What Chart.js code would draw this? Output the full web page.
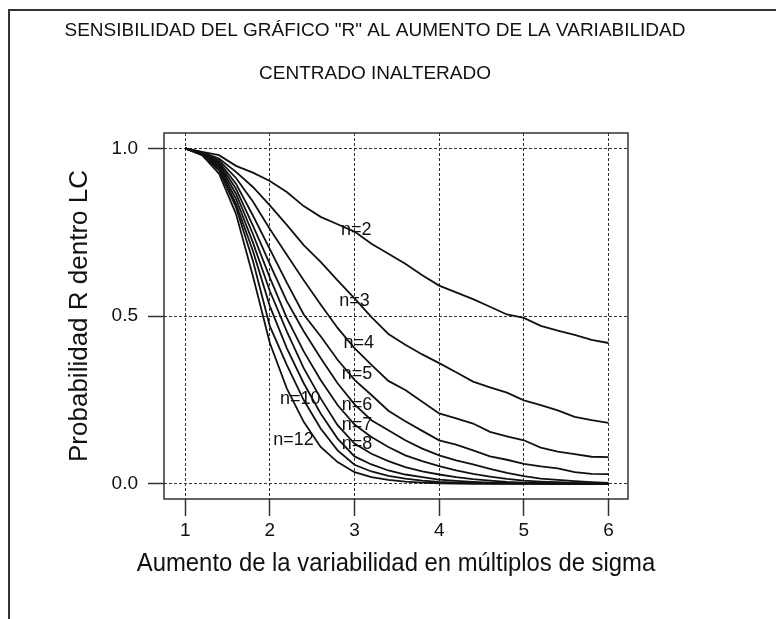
<!DOCTYPE html>
<html><head><meta charset="utf-8">
<script src="https://cdn.jsdelivr.net/npm/chart.js@4.4.0/dist/chart.umd.min.js"></script>
<style>
html,body{margin:0;padding:0;background:#fff;overflow:hidden;width:776px;height:619px;}
#frame{position:absolute;left:8px;top:9px;width:800px;height:700px;border-top:2px solid #333;border-left:2px solid #333;}
#c{position:absolute;left:0;top:0;}
</style></head><body>
<div id="frame"></div>
<canvas id="c" width="776" height="619"></canvas>
<script>
// ---- data ----
const titleLines = ['SENSIBILIDAD DEL GRÁFICO "R" AL AUMENTO DE LA VARIABILIDAD', 'CENTRADO INALTERADO'];
const xTitle = 'Aumento de la variabilidad en múltiplos de sigma';
const yTitle = 'Probabilidad R dentro LC';
const xTicks = [1, 2, 3, 4, 5, 6];
const yTicks = [0, 0.5, 1.0];
const xValues = [1.0,1.2,1.4,1.6,1.8,2.0,2.2,2.4,2.6,2.8,3.0,3.2,3.4,3.6,3.8,4.0,4.2,4.4,4.6,4.8,5.0,5.2,5.4,5.6,5.8,6.0];
const n2  = [1.000,0.990,0.980,0.948,0.928,0.903,0.870,0.828,0.796,0.774,0.752,0.716,0.686,0.656,0.622,0.591,0.571,0.551,0.528,0.505,0.495,0.471,0.457,0.444,0.429,0.420];
const n3  = [1.000,0.988,0.970,0.930,0.885,0.830,0.772,0.712,0.662,0.607,0.553,0.497,0.447,0.415,0.386,0.360,0.333,0.305,0.288,0.272,0.249,0.235,0.219,0.200,0.190,0.182];
const n4  = [1.000,0.987,0.965,0.912,0.842,0.760,0.683,0.607,0.535,0.465,0.405,0.355,0.307,0.280,0.245,0.210,0.195,0.180,0.155,0.142,0.130,0.108,0.096,0.089,0.081,0.080];
const n5  = [1.000,0.986,0.960,0.895,0.800,0.700,0.600,0.505,0.440,0.370,0.310,0.265,0.218,0.187,0.158,0.130,0.117,0.100,0.082,0.072,0.060,0.052,0.046,0.035,0.030,0.029];
const n6  = [1.000,0.985,0.955,0.880,0.770,0.655,0.545,0.455,0.375,0.300,0.237,0.190,0.160,0.130,0.105,0.085,0.070,0.058,0.045,0.033,0.023,0.016,0.012,0.008,0.005,0.003];
const n7  = [1.000,0.984,0.950,0.865,0.745,0.615,0.495,0.395,0.310,0.235,0.177,0.140,0.110,0.085,0.068,0.053,0.040,0.030,0.022,0.015,0.010,0.007,0.005,0.003,0.002,0.001];
const n8  = [1.000,0.983,0.945,0.850,0.720,0.575,0.455,0.345,0.255,0.175,0.120,0.090,0.068,0.050,0.037,0.028,0.020,0.014,0.010,0.006,0.004,0.003,0.002,0.001,0.001,0.000];
const n9  = [1.000,0.982,0.940,0.835,0.695,0.530,0.405,0.300,0.210,0.135,0.082,0.058,0.040,0.028,0.020,0.013,0.009,0.006,0.004,0.003,0.002,0.001,0.001,0.000,0.000,0.000];
const n10 = [1.000,0.981,0.935,0.825,0.665,0.470,0.355,0.250,0.165,0.100,0.057,0.037,0.024,0.016,0.010,0.006,0.004,0.003,0.002,0.001,0.001,0.000,0.000,0.000,0.000,0.000];
const n12 = [1.000,0.980,0.925,0.805,0.620,0.420,0.285,0.185,0.110,0.065,0.035,0.020,0.012,0.007,0.004,0.002,0.001,0.000,0.000,0.000,0.000,0.000,0.000,0.000,0.000,0.000];
const seriesNames = ['n=2','n=3','n=4','n=5','n=6','n=7','n=8','n=9','n=10','n=12'];
const seriesValues = [n2, n3, n4, n5, n6, n7, n8, n9, n10, n12];
// curve annotations (data coordinates)
const lineLabelText = ['n=2','n=3','n=4','n=5','n=6','n=7','n=8','n=10','n=12'];
const lineLabelX = [3.02, 3.00, 3.05, 3.03, 3.03, 3.03, 3.03, 2.36, 2.28];
const lineLabelY = [0.756, 0.546, 0.420, 0.327, 0.235, 0.175, 0.118, 0.252, 0.130];

// ---- chart ----
const FONT = "'Liberation Sans', Arial, Helvetica, sans-serif";
const INK = '#111';
const datasets = seriesNames.map((name, i) => ({
  label: name,
  data: xValues.map((x, j) => ({x: x, y: seriesValues[i][j]})),
  borderColor: INK, borderWidth: 1.8, pointRadius: 0, fill: false, tension: 0
}));

const boxAndLabels = {
  id: 'boxAndLabels',
  afterDatasetsDraw(chart) {
    const ctx = chart.ctx, xs = chart.scales.x, ys = chart.scales.y, a = chart.chartArea;
    ctx.save();
    ctx.font = '18px ' + FONT;
    ctx.fillStyle = INK;
    ctx.textAlign = 'center';
    ctx.textBaseline = 'middle';
    lineLabelText.forEach((t, i) => {
      ctx.fillText(t, xs.getPixelForValue(lineLabelX[i]), ys.getPixelForValue(lineLabelY[i]));
    });
    // x axis title (drawn here so it is not squeezed to the plot width)
    ctx.translate((a.left + a.right) / 2, a.bottom + 65);
    ctx.scale(0.9, 1);
    ctx.font = '26.5px ' + FONT;
    ctx.fillText(xTitle, 0, 0);
    ctx.restore();
  },
  afterDraw(chart) {
    const a = chart.chartArea, ctx = chart.ctx;
    ctx.save();
    ctx.strokeStyle = '#333';
    ctx.lineWidth = 1.5;
    ctx.strokeRect(a.left, a.top, a.right - a.left, a.bottom - a.top);
    ctx.restore();
  }
};

new Chart(document.getElementById('c'), {
  type: 'line',
  data: {datasets: datasets},
  plugins: [boxAndLabels],
  options: {
    responsive: false,
    animation: false,
    devicePixelRatio: 1,
    layout: {padding: {left: 0, right: 26, top: 0, bottom: 0}},
    plugins: {
      legend: {display: false},
      tooltip: {enabled: false},
      title: {
        display: true, text: titleLines, color: INK,
        font: {family: FONT, size: 19, weight: 'normal', lineHeight: 43 / 19},
        padding: {top: 9.5, bottom: 37.5}
      }
    },
    scales: {
      x: {
        type: 'linear', min: 0.75, max: 6.23,
        afterBuildTicks: s => { s.ticks = xTicks.map(v => ({value: v})); },
        afterFit: s => { s.height = 120; },
        ticks: {font: {family: FONT, size: 19}, color: INK, padding: 3, maxRotation: 0, autoSkip: false, callback: v => String(v)},
        grid: {color: '#333', lineWidth: 1, tickLength: 17, tickColor: '#333', tickWidth: 1.5},
        border: {display: false, dash: [3, 2]},
        title: {display: false, text: xTitle}
      },
      y: {
        type: 'linear', min: -0.045, max: 1.046,
        afterBuildTicks: s => { s.ticks = yTicks.map(v => ({value: v})); },
        afterFit: s => { s.width = 164; },
        ticks: {font: {family: FONT, size: 19}, color: INK, padding: 10, callback: v => Number(v).toFixed(1)},
        grid: {color: '#333', lineWidth: 1, tickLength: 16, tickColor: '#333', tickWidth: 1.5},
        border: {display: false, dash: [3, 2]},
        title: {display: true, text: yTitle, color: INK, font: {family: FONT, size: 26}, padding: {top: 64, bottom: 0}}
      },
      yR: {
        type: 'linear', position: 'right', display: true,
        afterFit: s => { s.width = 122; },
        ticks: {display: false},
        grid: {display: false, drawTicks: false},
        border: {display: false}
      }
    }
  }
});
</script></body></html>
